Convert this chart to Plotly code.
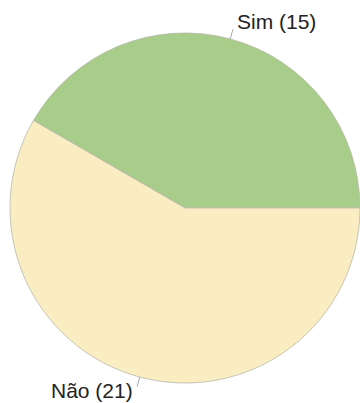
import math
import plotly.graph_objects as go

labels = ["Sim", "Não"]
values = [15, 21]
colors = ["#a8cd8a", "#faedc2"]

W, H = 360, 403
cx, cy, R = 185, 208, 175  # pixel layout of the pie

fig = go.Figure(go.Pie(
    labels=labels, values=values, sort=False, direction="counterclockwise",
    rotation=-60, textinfo="none", hoverinfo="label+value",
    marker=dict(colors=colors, line=dict(color="#b8b8a8", width=0.8)),
    domain=dict(x=[(cx - R) / W, (cx + R) / W], y=[(H - cy - R) / H, (H - cy + R) / H]),
    showlegend=False,
))

total = sum(values)
start = 0.0
shapes, annotations = [], []
for lab, v in zip(labels, values):
    frac = v / total
    mid = math.radians((start + frac / 2) * 360)
    start += frac
    x0, y0 = cx + R * math.cos(mid), cy - R * math.sin(mid)
    x1, y1 = cx + (R + 10) * math.cos(mid), cy - (R + 10) * math.sin(mid)
    shapes.append(dict(type="line", xref="paper", yref="paper",
                       x0=x0 / W, y0=1 - y0 / H, x1=x1 / W, y1=1 - y1 / H,
                       line=dict(color="#aaaaaa", width=1)))
    right = math.cos(mid) >= 0
    annotations.append(dict(
        text=f"{lab} ({v})", xref="paper", yref="paper",
        x=(x1 + (2 if right else -2)) / W, y=1 - (y1 - 8 if right else y1 + 4) / H,
        xanchor="left" if right else "right", yanchor="middle",
        showarrow=False, font=dict(family="Liberation Sans, Arial", size=21, color="#222222")))

fig.update_layout(width=W, height=H, margin=dict(l=0, r=0, t=0, b=0),
                  paper_bgcolor="white", plot_bgcolor="white",
                  shapes=shapes, annotations=annotations)
fig.write_html("out.html")
